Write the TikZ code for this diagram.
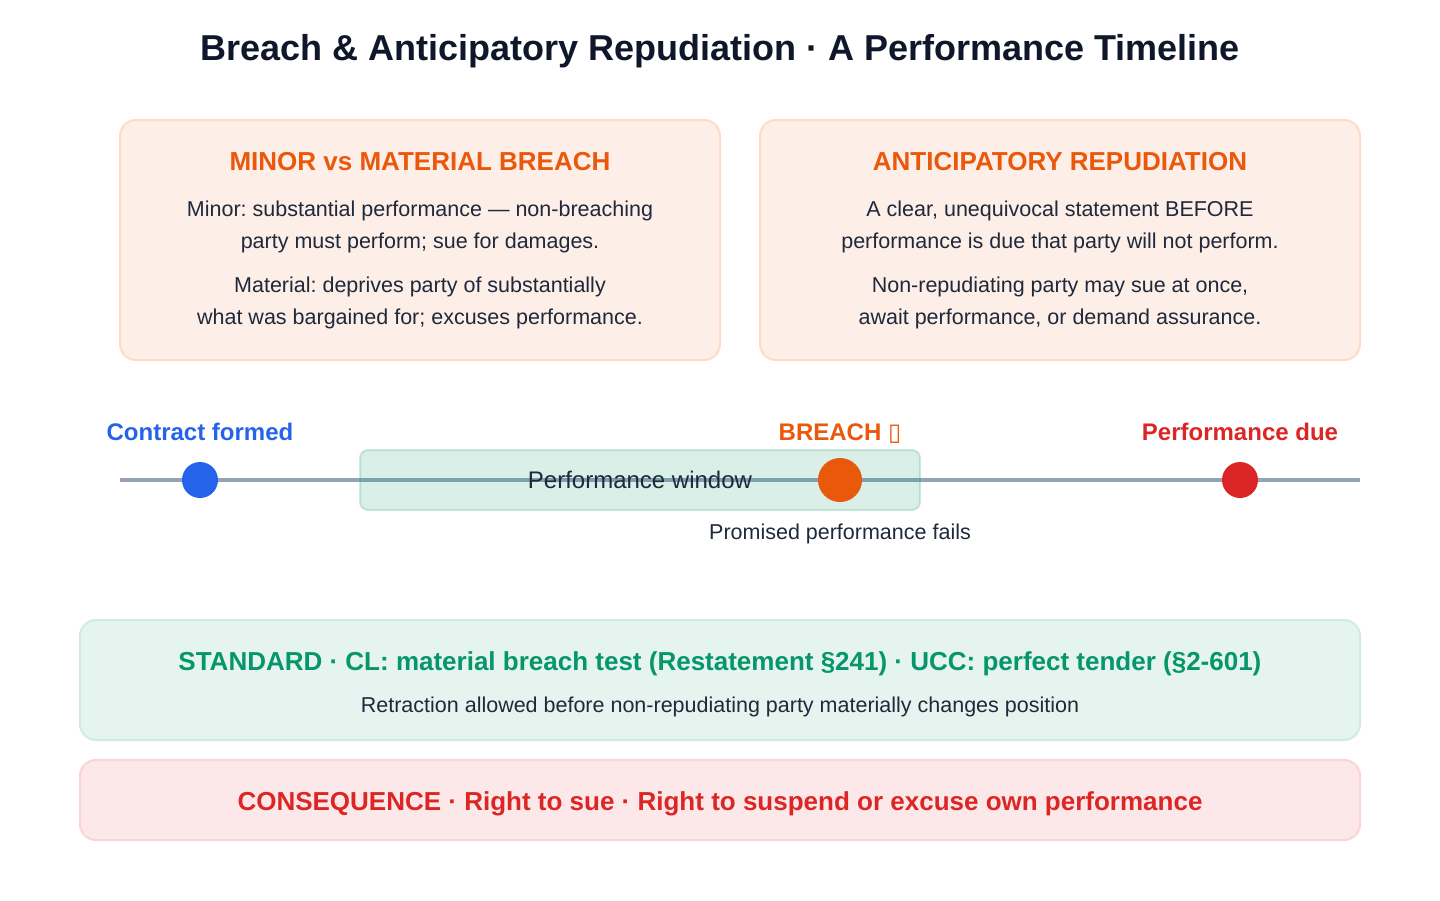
\documentclass[tikz,border=0pt]{standalone}
\usepackage{fontspec}
\setmainfont{Liberation Sans}
\newfontfamily\dejavu{DejaVu Sans}
\frenchspacing
\definecolor{ink}{HTML}{0F172A}
\definecolor{body}{HTML}{1E293B}
\definecolor{orng}{HTML}{EA580C}
\definecolor{orngfill}{HTML}{FDEEE7}
\definecolor{orngline}{HTML}{FDDCCB}
\definecolor{grn}{HTML}{059669}
\definecolor{grnfill}{HTML}{E6F4EF}
\definecolor{grnline}{HTML}{D0EBE1}
\definecolor{rd}{HTML}{DC2626}
\definecolor{rdfill}{HTML}{FCE8E8}
\definecolor{rdline}{HTML}{F9D5D5}
\definecolor{blu}{HTML}{2563EB}
\definecolor{slate}{HTML}{94A3B8}
\tikzset{
  txt/.style={inner sep=0pt, anchor=base},
  ttl/.style={txt, font=\fontsize{36}{40}\selectfont\bfseries, text=ink},
  head/.style={txt, font=\fontsize{26}{30}\selectfont\bfseries},
  bodytxt/.style={txt, font=\fontsize{21.5}{26}\selectfont\frenchspacing, text=body},
  lbl/.style={txt, font=\fontsize{24}{28}\selectfont\bfseries},
  card/.style={line width=2pt, rounded corners=16pt},
  dot/.style={circle, inner sep=0pt, minimum size=#1},
}
\begin{document}
\begin{tikzpicture}[x=1pt,y=-1pt]
\useasboundingbox (0,0) rectangle (1440,900);
\fill[white] (0,0) rectangle (1440,900);

% title
\node[ttl] (title) at (720,60.6) {Breach \& Anticipatory Repudiation · A Performance Timeline};

% top cards
\draw[card, draw=orngline, fill=orngfill] (120,120) rectangle (720,360);
\draw[card, draw=orngline, fill=orngfill] (760,120) rectangle (1360,360);

\node[head, text=orng] (minorhead) at (420,170) {MINOR vs MATERIAL BREACH};
\node[bodytxt] (minor1) at (420,216.5) {Minor: substantial performance — non-breaching};
\node[bodytxt] (minor2) at (420,248.5) {party must perform; sue for damages.};
\node[bodytxt] (mat1) at (420,292.5) {Material: deprives party of substantially};
\node[bodytxt] (mat2) at (420,324.5) {what was bargained for; excuses performance.};

\node[head, text=orng] (anthead) at (1060,170) {ANTICIPATORY REPUDIATION};
\node[bodytxt] (ant1) at (1060,216.5) {A clear, unequivocal statement BEFORE};
\node[bodytxt] (ant2) at (1060,248.5) {performance is due that party will not perform.};
\node[bodytxt] (ant3) at (1060,292.5) {Non-repudiating party may sue at once,};
\node[bodytxt] (ant4) at (1060,324.5) {await performance, or demand assurance.};

% timeline
\coordinate (tlstart) at (120,480);
\coordinate (tlend) at (1360,480);
\draw[slate, line width=4pt] (tlstart) -- (tlend);
\draw[rounded corners=8pt, line width=2pt, draw=grn, draw opacity=0.18, fill=grn, fill opacity=0.15] (360,450) rectangle (920,510);
\node[txt, font=\fontsize{24}{28}\selectfont, text=body] (window) at (640,488.4) {Performance window};

\node[dot=36pt, fill=blu] (formed) at (200,480) {};
\node[dot=44pt, fill=orng] (breach) at (840,480) {};
\node[dot=36pt, fill=rd] (due) at (1240,480) {};

\node[lbl, text=blu] (formedlbl) at (200,440.5) {Contract formed};
\node[lbl, text=orng] (breachlbl) at (840,440.5) {BREACH {\dejavu\mdseries ▯}};
\node[lbl, text=rd] (duelbl) at (1240,440.5) {Performance due};
\node[bodytxt] (fails) at (840,539.5) {Promised performance fails};

% standard
\draw[card, draw=grnline, fill=grnfill] (80,620) rectangle (1360,740);
\node[head, text=grn] (stdhead) at (720,670) {STANDARD · CL: material breach test (Restatement §241) · UCC: perfect tender (§2-601)};
\node[bodytxt] (stdsub) at (720,712.5) {Retraction allowed before non-repudiating party materially changes position};

% consequence
\draw[card, draw=rdline, fill=rdfill] (80,760) rectangle (1360,840);
\node[head, text=rd] (conseq) at (720,810) {CONSEQUENCE · Right to sue · Right to suspend or excuse own performance};
\end{tikzpicture}
\end{document}
